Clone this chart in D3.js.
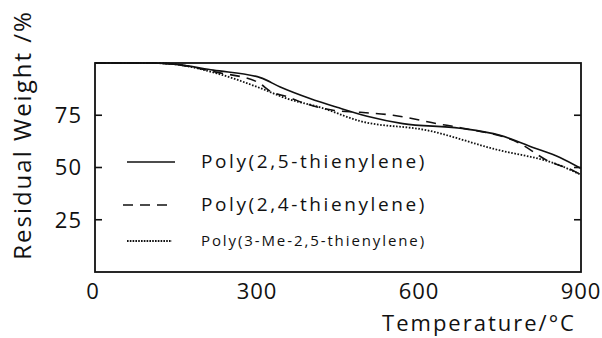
<!DOCTYPE html>
<html><head><meta charset="utf-8">
<script src="https://cdn.jsdelivr.net/npm/d3@7"></script>
<style>body{margin:0;background:#fff}svg{display:block}text{font-family:"Open Sans","DejaVu Sans",sans-serif;fill:#111}</style>
</head><body><svg id="c" width="602" height="338"></svg>
<script>
const xTicks = [0, 300, 600, 900];
const yTicks = [25, 50, 75];
const seriesNames = ["Poly(2,5-thienylene)", "Poly(2,4-thienylene)", "Poly(3-Me-2,5-thienylene)"];
const temps25 = [0, 100, 140, 219, 306, 343, 398, 448, 504, 570, 676, 750, 811, 861, 900];
const w25     = [100, 100, 99.6, 96.6, 93, 88.5, 83, 78.8, 74.5, 71, 68.8, 65.4, 59.6, 54.8, 49.5];
const temps24 = [0, 100, 140, 226, 300, 328, 355, 385, 441, 491, 552, 633, 681, 787, 837, 885, 900];
const w24     = [100, 100, 99.6, 95.5, 91, 86, 84, 81, 77.4, 76.4, 75, 71, 68.8, 61.5, 53.4, 48.6, 46.5];
const temps3m = [0, 100, 140, 226, 306, 355, 417, 491, 615, 737, 861, 900];
const w3m     = [100, 100, 99.6, 95, 88, 83, 78.8, 72.2, 67.8, 59, 51, 46.5];

const svg = d3.select("#c");
const x = d3.scaleLinear().domain([0, 900]).range([95, 581]);
const y = d3.scaleLinear().domain([0, 100]).range([272, 63]);

svg.append("rect").attr("x", 95).attr("y", 63).attr("width", 486).attr("height", 209)
  .attr("fill", "none").attr("stroke", "#111").attr("stroke-width", 1.8);

const g = svg.append("g");
yTicks.forEach(v => {
  g.append("line").attr("x1", x(0)).attr("x2", x(0) + 7).attr("y1", y(v)).attr("y2", y(v)).attr("stroke", "#111").attr("stroke-width", 1.6);
  g.append("line").attr("x1", x(900)).attr("x2", x(900) - 7).attr("y1", y(v)).attr("y2", y(v)).attr("stroke", "#111").attr("stroke-width", 1.6);
  g.append("text").attr("x", 82).attr("y", y(v)).attr("dy", "0.36em").attr("text-anchor", "end")
    .attr("font-size", 22).attr("letter-spacing", 1).text(v);
});
xTicks.forEach(v => {
  g.append("text").attr("x", x(v) - (v === 0 ? 2 : 0)).attr("y", 299).attr("text-anchor", "middle")
    .attr("font-size", 22).attr("letter-spacing", 1).text(v);
});
svg.append("text").attr("x", 479).attr("y", 331).attr("text-anchor", "middle").attr("font-size", 22)
  .attr("letter-spacing", 2).text("Temperature/°C");
svg.append("text").attr("transform", "translate(31,135) rotate(-90)").attr("text-anchor", "middle")
  .attr("font-size", 24).attr("letter-spacing", 2).text("Residual Weight /%");

const line = d3.line().x(d => x(d[0])).y(d => y(d[1])).curve(d3.curveMonotoneX);
const series = [
  {t: temps25, w: w25, dash: null, width: 1.6},
  {t: temps24, w: w24, dash: "10,7", width: 1.6},
  {t: temps3m, w: w3m, dash: "1.6,1.6", width: 1.8}
];
series.forEach(s => {
  svg.append("path").datum(s.t.map((t, i) => [t, s.w[i]])).attr("d", line)
    .attr("fill", "none").attr("stroke", "#111").attr("stroke-width", s.width)
    .attr("stroke-dasharray", s.dash);
});

const legY = [162, 205, 241];
const legX = [[127, 175], [123, 168], [127, 172]];
const legFs = [19, 19, 15];
const legLs = [2.6, 2.6, 1.9];
series.forEach((s, i) => {
  svg.append("line").attr("x1", legX[i][0]).attr("x2", legX[i][1]).attr("y1", legY[i]).attr("y2", legY[i])
    .attr("stroke", "#111").attr("stroke-width", i === 2 ? 1.8 : 1.4)
    .attr("stroke-dasharray", i === 1 ? "10,7" : (i === 2 ? "1.6,1.2" : null));
  svg.append("text").attr("x", 201).attr("y", legY[i]).attr("dy", "0.33em").attr("font-size", legFs[i])
    .attr("letter-spacing", legLs[i]).text(seriesNames[i]);
});
</script></body></html>
